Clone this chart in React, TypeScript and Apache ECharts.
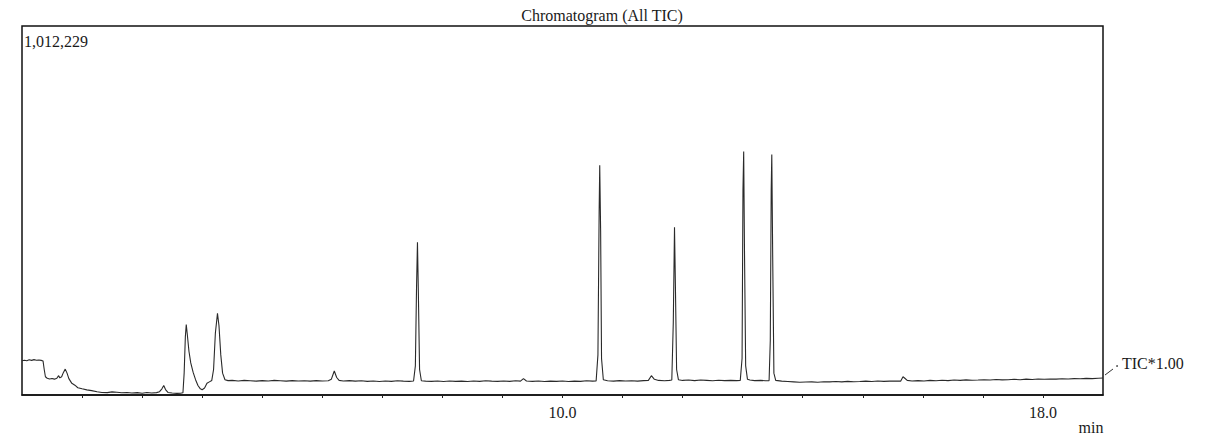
import React, { useEffect, useRef } from "react";
import * as echarts from "echarts";

// Retention time (min) vs. TIC intensity (counts)
const earlyRegion: [number, number][] = [
  [1.0, 94000], [1.04, 95500], [1.08, 94000], [1.12, 96500], [1.16, 95000], [1.2, 97000],
  [1.24, 95500], [1.28, 96000], [1.32, 95000], [1.35, 93500], [1.37, 70000], [1.39, 50000],
  [1.42, 46000], [1.46, 44000], [1.5, 45500], [1.54, 43500], [1.58, 46000], [1.61, 53000],
  [1.63, 47000], [1.66, 50000], [1.69, 62000], [1.72, 71000], [1.75, 60000], [1.78, 45000],
  [1.83, 32000], [1.88, 27000], [1.93, 20000], [2.0, 17000], [2.08, 14000], [2.16, 12000],
  [2.25, 9000], [2.33, 7000], [2.42, 6500], [2.5, 8500], [2.58, 7500], [2.66, 6000],
  [2.75, 7000], [2.83, 5500], [2.92, 6500], [3.0, 5000], [3.08, 7000], [3.16, 5500],
  [3.24, 6500], [3.29, 9000], [3.33, 17000], [3.36, 26000], [3.39, 15000], [3.43, 7000],
  [3.5, 5500], [3.58, 4500], [3.64, 5000], [3.68, 6000], [3.7, 60000], [3.72, 160000],
  [3.735, 193000], [3.75, 170000], [3.78, 120000], [3.81, 88000], [3.85, 62000], [3.89, 42000],
  [3.93, 26000], [3.97, 17000], [4.0, 14500], [4.04, 19000], [4.08, 32000], [4.12, 36000],
  [4.16, 40000], [4.19, 70000], [4.22, 170000], [4.255, 224000], [4.28, 190000], [4.31, 110000],
  [4.34, 60000], [4.38, 42000], [4.43, 39500], [4.5, 40000],
];

const midRegion: [number, number][] = [
  [4.6, 38500], [4.7, 40000], [4.8, 39000], [4.9, 38000], [5.0, 39500], [5.1, 38500],
  [5.2, 40000], [5.3, 39000], [5.4, 38000], [5.5, 39500], [5.6, 38500], [5.7, 39000],
  [5.8, 38000], [5.9, 39500], [6.0, 38500], [6.1, 39000], [6.15, 43000], [6.2, 66000],
  [6.24, 48000], [6.28, 40000], [6.35, 38500], [6.45, 39500], [6.55, 38000], [6.65, 39000],
  [6.75, 37500], [6.85, 38500], [6.95, 37000], [7.05, 38500], [7.15, 37500], [7.25, 39000],
  [7.35, 38000], [7.45, 37500], [7.52, 38500], [7.55, 80000], [7.57, 300000], [7.585, 419000],
  [7.6, 280000], [7.62, 70000], [7.65, 39000], [7.72, 38000], [7.82, 37500], [7.92, 38500],
  [8.02, 37000], [8.12, 38500], [8.22, 37500], [8.32, 38000], [8.42, 37000], [8.52, 38500],
  [8.62, 37500], [8.72, 39000], [8.82, 38000], [8.92, 37500], [9.02, 38500], [9.12, 37500],
  [9.22, 39000], [9.3, 38000], [9.35, 45000], [9.4, 38500], [9.5, 37500], [9.6, 38500],
  [9.7, 37000], [9.8, 38000], [9.9, 37500], [10.0, 38500], [10.1, 37000], [10.2, 38000],
  [10.3, 37500], [10.4, 39000], [10.5, 38000], [10.56, 38500], [10.59, 110000], [10.61, 500000],
  [10.62, 630000], [10.635, 450000], [10.65, 100000], [10.68, 42000], [10.75, 39000], [10.85, 38000],
  [10.95, 39500], [11.05, 38500], [11.15, 39000], [11.25, 38000], [11.35, 39500], [11.43, 40000],
  [11.48, 53000], [11.53, 43000], [11.6, 40000], [11.7, 39000], [11.78, 40000], [11.82, 41000],
  [11.845, 200000], [11.865, 460000], [11.88, 300000], [11.9, 70000], [11.93, 42000], [12.0, 40000],
  [12.1, 41000], [12.2, 39500], [12.3, 41000], [12.4, 40000], [12.5, 39000], [12.6, 40500],
  [12.7, 39500], [12.8, 40000], [12.9, 39500], [12.96, 40000], [12.99, 100000], [13.005, 560000],
  [13.017, 668000], [13.03, 400000], [13.05, 80000], [13.08, 43000], [13.12, 41000], [13.2, 39500],
  [13.3, 40000], [13.38, 39000], [13.44, 39500], [13.46, 150000], [13.475, 560000], [13.485, 660000],
  [13.5, 380000], [13.52, 60000], [13.55, 40000],
];

const lateRegion: [number, number][] = [
  [13.65, 38000], [13.75, 37000], [13.85, 36000], [13.95, 35000], [14.05, 35500], [14.15, 36000],
  [14.25, 35000], [14.35, 36500], [14.45, 36000], [14.55, 37000], [14.65, 36000], [14.75, 37500],
  [14.85, 36500], [14.95, 37000], [15.05, 38000], [15.15, 37000], [15.25, 38500], [15.35, 37500],
  [15.45, 38000], [15.55, 38500], [15.63, 38000], [15.67, 50000], [15.7, 46000], [15.74, 40000],
  [15.82, 38500], [15.92, 39500], [16.02, 38500], [16.12, 40000], [16.22, 39000], [16.32, 40500],
  [16.42, 39500], [16.52, 41000], [16.62, 40000], [16.72, 41500], [16.82, 40500], [16.92, 41000],
  [17.02, 42000], [17.12, 41000], [17.22, 42500], [17.32, 41500], [17.42, 42000], [17.52, 43000],
  [17.62, 42000], [17.72, 43500], [17.82, 42500], [17.92, 44000], [18.02, 43000], [18.12, 44000],
  [18.22, 43500], [18.32, 44500], [18.42, 44000], [18.52, 45000], [18.62, 44500], [18.72, 45500],
  [18.82, 45000], [18.92, 46000], [19.0, 46500],
];

const xLabeled = [10, 18];
const yMax = 1012229;
const titleText = "Chromatogram (All TIC)";
const traceLabel = "TIC*1.00";
const unitLabel = "min";

const SERIF = "Liberation Serif";

export default function App() {
  const ref = useRef<HTMLDivElement>(null);
  useEffect(() => {
    if (!ref.current) return;
    const chart = echarts.init(ref.current, undefined, { renderer: "svg" });
    const data = [...earlyRegion, ...midRegion, ...lateRegion];
    const textStyle = (text: string, align: string) => ({
      text,
      fontFamily: SERIF,
      fontSize: 16,
      fill: "#1a1a1a",
      align,
      verticalAlign: "middle",
    });
    chart.setOption({
      animation: false,
      backgroundColor: "#ffffff",
      grid: {
        left: 22,
        right: 105,
        top: 26,
        bottom: 41,
        show: true,
        borderColor: "#111",
        borderWidth: 1.5,
        containLabel: false,
      },
      xAxis: {
        type: "value",
        min: 1,
        max: 19,
        interval: 1,
        axisLine: { show: true, lineStyle: { color: "#111", width: 1.5 } },
        axisTick: { show: true, length: 3, lineStyle: { color: "#222", width: 1 } },
        splitLine: { show: false },
        axisLabel: {
          margin: 9,
          fontFamily: SERIF,
          fontSize: 16,
          color: "#1a1a1a",
          showMinLabel: false,
          showMaxLabel: false,
          formatter: (v: number) => (xLabeled.includes(Math.round(v * 1000) / 1000) ? v.toFixed(1) : ""),
        },
      },
      yAxis: {
        type: "value",
        min: 0,
        max: yMax,
        axisLine: { show: false },
        axisTick: { show: false },
        axisLabel: { show: false },
        splitLine: { show: false },
      },
      series: [
        {
          type: "line",
          data,
          symbol: "none",
          lineStyle: { color: "#2a2a2a", width: 1.1 },
          silent: true,
        },
      ],
      graphic: [
        { type: "text", x: 602, y: 15, style: textStyle(titleText, "center") },
        { type: "text", x: 24, y: 41, style: textStyle(yMax.toLocaleString("en-US"), "left") },
        {
          type: "line",
          shape: { x1: 1105, y1: 375, x2: 1113, y2: 369 },
          style: { stroke: "#333", lineWidth: 1 },
        },
        { type: "circle", shape: { cx: 1117, cy: 366, r: 0.8 }, style: { fill: "#333" } },
        { type: "text", x: 1122, y: 363, style: textStyle(traceLabel, "left") },
        { type: "text", x: 1091, y: 427, style: textStyle(unitLabel, "center") },
      ],
    });
    return () => chart.dispose();
  }, []);
  return (
    <div
      ref={ref}
      style={{ position: "fixed", left: 0, top: 0, width: 1208, height: 436, background: "#fff" }}
    />
  );
}
